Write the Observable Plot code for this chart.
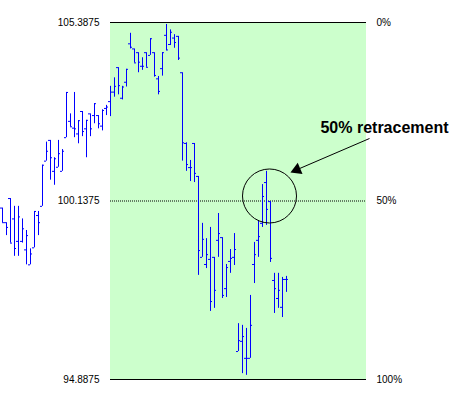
<!DOCTYPE html>
<html>
<head>
<meta charset="utf-8">
<script src="https://cdn.jsdelivr.net/npm/d3@7"></script>
<script src="https://cdn.jsdelivr.net/npm/@observablehq/plot@0.6"></script>
<style>
  html, body { margin: 0; padding: 0; background: #fff; }
  #chart svg { display: block; }
</style>
</head>
<body>
<div id="chart"></div>
<script>
const opens = [
  99.93, 99.50, 100.21, 99.61, 98.95, 98.95, 98.70, 98.26, 98.76, 99.71,
  99.98, 101.31, 101.92, 101.01, 101.13, 101.01, 102.00, 102.48, 102.28, 102.11,
  102.77, 102.26, 102.70, 102.65, 102.65, 102.34, 102.86, 103.06, 103.34, 104.06,
  103.16, 103.63, 104.76, 104.61, 104.50, 104.10, 104.50, 104.42, 104.50, 103.73,
  104.03, 105.01, 104.74, 104.93, 104.98, 103.91, 101.83, 101.12, 101.83, 100.86,
  98.48, 98.27, 98.42, 98.48, 98.98, 99.06, 97.56, 98.36, 98.48, 95.71,
  96.01, 95.51, 95.51, 98.27, 98.98, 99.48, 100.68, 100.12, 97.80, 97.27,
  97.01, 97.83
];
const highs = [
  99.93, 99.50, 100.21, 99.98, 99.98, 99.61, 99.27, 98.73, 99.83, 99.83,
  101.19, 101.87, 101.92, 101.41, 101.92, 101.65, 103.33, 102.70, 103.33, 102.50,
  102.77, 102.51, 102.70, 103.00, 102.65, 102.82, 102.95, 103.51, 103.76, 104.06,
  103.51, 104.01, 105.07, 104.61, 104.50, 104.35, 104.50, 104.91, 104.50, 103.80,
  104.50, 105.33, 105.17, 105.03, 104.98, 103.91, 101.85, 101.33, 101.83, 100.86,
  99.48, 99.03, 99.36, 98.48, 99.77, 99.06, 98.27, 98.71, 99.18, 96.53,
  96.48, 96.39, 97.36, 98.92, 99.56, 100.62, 101.01, 100.12, 98.01, 98.01,
  97.89, 97.92
];
const lows = [
  99.50, 99.12, 98.90, 98.51, 98.51, 98.90, 98.26, 98.26, 98.76, 99.12,
  99.98, 101.31, 100.75, 100.60, 101.13, 101.01, 102.00, 102.32, 102.00, 101.82,
  102.03, 101.41, 102.03, 102.41, 102.26, 102.20, 102.65, 102.62, 103.19, 103.26,
  103.11, 103.49, 104.61, 104.20, 103.91, 103.98, 104.07, 104.42, 103.78, 103.26,
  103.81, 104.56, 104.71, 104.63, 104.27, 101.31, 101.01, 100.71, 100.68, 97.95,
  98.48, 98.15, 96.89, 96.98, 98.48, 97.27, 97.30, 98.01, 98.24, 95.71,
  95.06, 95.01, 95.51, 97.71, 98.48, 99.36, 99.42, 98.33, 96.83, 96.98,
  96.71, 97.45
];
const closes = [
  99.50, 99.36, 98.90, 98.74, 99.67, 99.32, 99.12, 98.58, 99.83, 99.50,
  101.19, 101.60, 101.41, 101.38, 101.53, 101.60, 103.33, 102.32, 102.26, 102.50,
  102.18, 102.51, 102.26, 103.00, 102.41, 102.80, 102.90, 103.34, 103.51, 103.53,
  103.49, 104.01, 104.66, 104.20, 104.22, 104.10, 104.07, 104.91, 103.83, 103.36,
  104.50, 104.58, 105.10, 104.80, 104.34, 101.85, 101.21, 101.12, 100.95, 98.68,
  99.01, 98.56, 97.18, 97.51, 99.18, 97.36, 98.18, 98.45, 98.71, 96.03,
  96.15, 95.51, 96.48, 98.56, 99.09, 100.27, 99.89, 98.45, 97.56, 97.51,
  97.83, 97.83
];

// Retracement levels (0%, 50%, 100%)
const levels = [105.3875, 100.1375, 94.8875];
const priceLabels = ["105.3875", "100.1375", "94.8875"];
const pctLabels = ["0%", "50%", "100%"];

// Retracement zone spans from bar 28 to bar 92 (in bar-index units)
const zoneStart = 28, zoneEnd = 92;

// Annotation anchors (bar index, price)
const annotationText = ["50% retracement"];
const annotationAt = [[96.5, 102.30]];
const circleAt = [[67.75, 100.285]];
const arrowFrom = [[92.75, 101.976]];
const arrowHead = [[74.6, 101.058]];

const bars = opens.map((o, i) => ({i: i + 1, open: o, high: highs[i], low: lows[i], close: closes[i]}));
const levelRows = levels.map((v, k) => ({v, price: priceLabels[k], pct: pctLabels[k]}));

const font = "Arial, 'Liberation Sans', sans-serif";
const blue = "#0000ff";

const chart = Plot.plot({
  width: 460,
  height: 405,
  margin: 0,
  style: {background: "#fff", fontFamily: font},
  x: {domain: [1, 72], range: [2, 286], axis: null},
  y: {domain: [94.8875, 105.3875], range: [379, 22], axis: null},
  marks: [
    Plot.rect([0], {x1: zoneStart, x2: zoneEnd, y1: levels[2], y2: levels[0], fill: "#ccffcc"}),
    Plot.ruleY([levels[0], levels[2]], {x1: zoneStart, x2: zoneEnd, stroke: "#000", strokeWidth: 1}),
    Plot.ruleY([levels[1]], {x1: zoneStart, x2: zoneEnd, stroke: "#000", strokeWidth: 1, strokeDasharray: "1,1"}),
    Plot.ruleX(bars, {x: "i", y1: "low", y2: "high", stroke: blue, strokeWidth: 1}),
    Plot.ruleY(bars, {y: "open", x1: d => d.i - 0.5, x2: "i", stroke: blue, strokeWidth: 1}),
    Plot.ruleY(bars, {y: "close", x1: "i", x2: d => d.i + 0.5, stroke: blue, strokeWidth: 1}),
    Plot.text(levelRows, {x: zoneStart, y: "v", text: "price", textAnchor: "end", dx: -11, fontSize: 10, fill: "#000"}),
    Plot.text(levelRows, {x: zoneEnd, y: "v", text: "pct", textAnchor: "start", dx: 10, fontSize: 10, fill: "#000"}),
    Plot.dot(circleAt, {x: d => d[0], y: d => d[1], r: 27, stroke: "#000", strokeWidth: 1, fill: "none"}),
    Plot.link(arrowFrom, {x1: d => d[0], y1: d => d[1], x2: (d, k) => arrowHead[k][0], y2: (d, k) => arrowHead[k][1], stroke: "#000", strokeWidth: 1}),
    Plot.dot(arrowHead, {x: d => d[0], y: d => d[1], symbol: "triangle", r: 4.5, fill: "#000", stroke: "none", rotate: 246.7}),
    Plot.text(annotationText, {x: annotationAt[0][0], y: annotationAt[0][1], text: d => d, fontSize: 16, fontWeight: "bold", fill: "#000"})
  ]
});
document.getElementById("chart").appendChild(chart);
</script>
</body>
</html>
